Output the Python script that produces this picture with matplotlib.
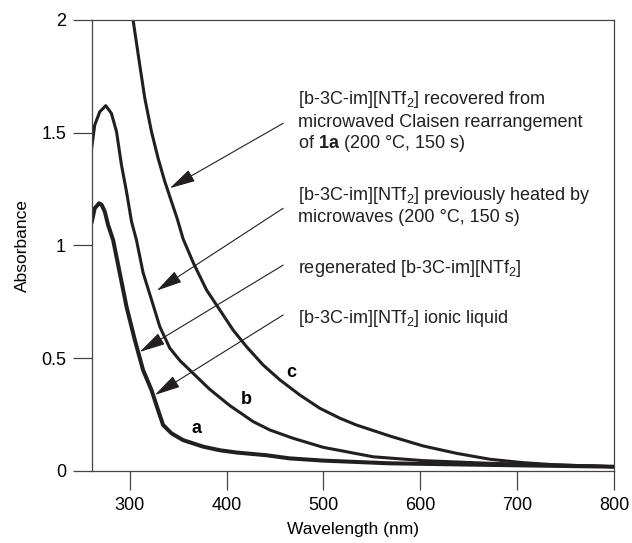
import matplotlib
matplotlib.use("Agg")
import matplotlib.pyplot as plt

plt.rcParams['font.family'] = ['Liberation Sans', 'DejaVu Sans']
plt.rcParams['mathtext.fontset'] = 'custom'
plt.rcParams['mathtext.rm'] = 'Liberation Sans'
plt.rcParams['mathtext.bf'] = 'Liberation Sans:bold'

# curve a: [b-3C-im][NTf2] ionic liquid / regenerated
wl_a = [260.4, 263.8, 268.3, 271, 274.2, 277.6, 282.8, 289.7, 296.6, 305.2, 313.7, 322.4,
        329.2, 334.4, 343.1, 355, 375.7, 393, 410, 441, 465, 500, 568.6, 672, 800]
abs_a = [1.098, 1.165, 1.187, 1.18, 1.15, 1.091, 1.024, 0.877, 0.729, 0.581, 0.448, 0.359,
         0.27, 0.204, 0.167, 0.137, 0.108, 0.092, 0.082, 0.07, 0.056, 0.046, 0.034, 0.027, 0.019]

# curve b: previously heated by microwaves
wl_b = [260.4, 263.8, 269, 275.2, 281, 286.3, 291.4, 296.6, 301.8, 306.9, 313.7, 322.4, 331,
        341.3, 351.7, 365.4, 382.6, 403.3, 427.4, 444.6, 468.7, 499.7, 551.3, 603, 672, 741, 800]
abs_b = [1.424, 1.534, 1.593, 1.62, 1.586, 1.505, 1.357, 1.239, 1.106, 1.024, 0.88, 0.76, 0.64,
         0.545, 0.49, 0.433, 0.362, 0.29, 0.219, 0.182, 0.145, 0.105, 0.063, 0.046, 0.034, 0.027, 0.019]

# curve c: recovered from microwaved Claisen rearrangement
wl_c = [303.4, 310.3, 315.5, 322.4, 329.2, 336.2, 343.1, 348.9, 355, 365.4, 379.2, 393,
        406.7, 420.6, 437.7, 455, 475.6, 496.3, 517, 534, 568.6, 603, 637.8, 672, 706, 741, 800]
abs_c = [2.0, 1.80, 1.653, 1.505, 1.387, 1.283, 1.194, 1.12, 1.03, 0.925, 0.803, 0.714,
         0.625, 0.551, 0.47, 0.404, 0.337, 0.278, 0.234, 0.204, 0.155, 0.111, 0.078, 0.052, 0.037, 0.027, 0.019]

ink = '#231f20'

fig = plt.figure(figsize=(6.32, 5.43), dpi=100)
ax = fig.add_axes([0.1456, 0.1326, 0.8259, 0.8306])

ax.plot(wl_a, abs_a, color=ink, lw=2.9, solid_joinstyle='round', solid_capstyle='butt')
ax.plot(wl_b, abs_b, color=ink, lw=2.2, solid_joinstyle='round', solid_capstyle='butt')
ax.plot(wl_c, abs_c, color=ink, lw=2.2, solid_joinstyle='round', solid_capstyle='butt')

ax.set_xlim(261, 800)
ax.set_ylim(0, 2)
ax.set_xticks([300, 400, 500, 600, 700, 800])
ax.set_yticks([0, 0.5, 1, 1.5, 2])
ax.set_yticklabels(['0', '0.5', '1', '1.5', '2'])
ax.tick_params(direction='out', length=13.7, width=0.9, color='#444444', labelsize=13, pad=5)
for s in ax.spines.values():
    s.set_color('#444444')
    s.set_linewidth(0.9)

ax.set_xlabel('Wavelength (nm)', fontsize=12.5, labelpad=6)
ax.set_ylabel('Absorbance', fontsize=12.5, labelpad=8)

# curve letters
ax.text(467, 0.435, 'c', fontsize=13, fontweight='bold', ha='center', va='center')
ax.text(420, 0.315, 'b', fontsize=13, fontweight='bold', ha='center', va='center')
ax.text(368.6, 0.19, 'a', fontsize=13, fontweight='bold', ha='center', va='center')

# annotation texts
tx = 473.6
lines = [
    (1.626, r'[b-3C-im][NTf$_\mathrm{2}$] recovered from'),
    (1.527, 'microwaved Claisen rearrangement'),
    (1.431, r'of $\mathbf{1a}$ (200 °C, 150 s)'),
    (1.202, r'[b-3C-im][NTf$_\mathrm{2}$] previously heated by'),
    (1.104, 'microwaves (200 °C, 150 s)'),
    (0.878, r'regenerated [b-3C-im][NTf$_\mathrm{2}$]'),
    (0.656, r'[b-3C-im][NTf$_\mathrm{2}$] ionic liquid'),
]
for y, s in lines:
    ax.text(tx, y, s, fontsize=13, ha='left', va='baseline', color=ink)

arrows = [
    ((458.4, 1.542), (341.3, 1.254)),
    ((458.4, 1.165), (327.9, 0.80)),
    ((458.4, 0.913), (310.3, 0.528)),
    ((458.4, 0.692), (325.8, 0.337)),
]
for start, tip in arrows:
    ax.annotate('', xy=tip, xytext=start,
                arrowprops=dict(arrowstyle='-|>,head_length=0.8,head_width=0.2',
                                mutation_scale=20, lw=0.8, color=ink,
                                shrinkA=0, shrinkB=0))

fig.savefig('out.png', dpi=100)
